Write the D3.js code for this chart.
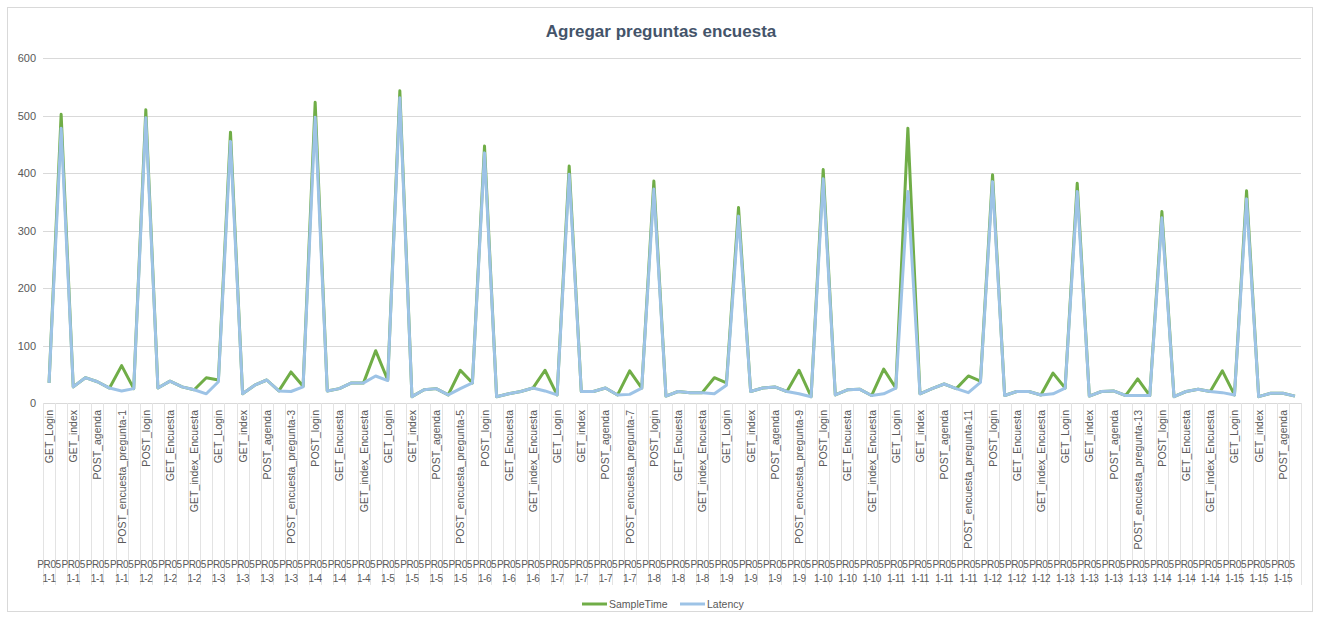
<!DOCTYPE html>
<html>
<head>
<meta charset="utf-8">
<script src="https://cdn.jsdelivr.net/npm/d3@7"></script>
<style>
	body { margin: 0; background: #fff; }
	text { font-family: 'Liberation Sans', sans-serif; fill: #595959; }
</style>
</head>
<body>
<script>
// ---------------------------- data -----------------------------------

var steps = ['GET_Login', 'POST_login', 'GET_index', 'GET_Encuesta', 'POST_agenda', 'GET_index_Encuesta', 'POST_encuesta_pregunta'];
var groupCount = 15;
var yTicks = [0, 100, 200, 300, 400, 500, 600];

var sampleTime = [35, 502, 28, 44, 37, 26, 65, 25, 510, 26, 38, 28, 23, 44, 40, 471, 16, 31, 40, 21, 54, 29, 523, 21, 25, 35, 35, 91, 40, 543,
	11, 23, 25, 14, 57, 35, 447, 11, 16, 20, 26, 57, 14, 412, 20, 20, 26, 14, 56, 26, 386, 12, 20, 18, 18, 44, 35, 340, 20, 26,
	28, 20, 57, 11, 406, 14, 23, 24, 13, 59, 26, 478, 16, 25, 33, 25, 47, 38, 397, 13, 20, 20, 14, 52, 26, 382, 12, 20, 21, 13,
	42, 13, 333, 11, 20, 24, 20, 56, 14, 369, 11, 17, 17, 12];

var latency = [35, 478, 28, 44, 37, 26, 21, 25, 496, 26, 38, 28, 23, 16, 37, 455, 16, 31, 40, 21, 20, 28, 497, 21, 25, 35, 35, 47, 39, 531,
	11, 23, 25, 14, 25, 35, 435, 11, 16, 20, 26, 21, 14, 398, 20, 20, 26, 14, 15, 26, 372, 12, 20, 18, 18, 16, 31, 325, 20, 26,
	28, 20, 16, 11, 390, 14, 23, 24, 13, 16, 26, 368, 16, 25, 33, 25, 18, 36, 385, 13, 20, 20, 14, 16, 26, 368, 12, 20, 21, 13,
	13, 13, 322, 11, 20, 24, 20, 18, 14, 355, 11, 17, 17, 12];

// category labels: request name + thread group
var names = [];
var groups = [];
for (var g = 1; g <= groupCount; g++) {
	steps.forEach(function(s) {
		names.push(s === 'POST_encuesta_pregunta' ? s + '-' + g : s);
		groups.push('1-' + g);
	});
}
names = names.slice(0, sampleTime.length);
groups = groups.slice(0, sampleTime.length);

var series = [
	{ name: 'SampleTime', values: sampleTime, color: '#70AD47' },
	{ name: 'Latency', values: latency, color: '#9DC3E6' }
];

// ---------------------------- d3 -----------------------------------

var svgWidth = 1320, svgHeight = 619;
var svg = d3.select('body').append('svg').attr('width', svgWidth).attr('height', svgHeight);

svg.append('rect').attr('x', 7.5).attr('y', 7.5).attr('width', 1305).attr('height', 604)
	.attr('fill', '#fff').attr('stroke', '#D9D9D9');

svg.append('text').attr('x', 661).attr('y', 37).attr('text-anchor', 'middle')
	.style('font-weight', 'bold').style('font-size', '17px').style('fill', '#44546A')
	.text('Agregar preguntas encuesta');

var plotLeft = 43, plotRight = 1301, plotTop = 58, plotBottom = 403;

var x = d3.scaleBand().domain(d3.range(names.length)).range([plotLeft, plotRight]).padding(0);
var y = d3.scaleLinear().domain([0, 600]).range([plotBottom, plotTop]);

// horizontal grid
svg.append('g').selectAll('line').data(yTicks).enter().append('line')
	.attr('x1', plotLeft).attr('x2', plotRight)
	.attr('y1', function(d) { return Math.round(y(d)) + 0.5; })
	.attr('y2', function(d) { return Math.round(y(d)) + 0.5; })
	.attr('stroke', '#D9D9D9');

var yAxis = svg.append('g').attr('transform', 'translate(' + (plotLeft - 7) + ',0)')
	.call(d3.axisLeft(y).tickValues(yTicks).tickSize(0).tickPadding(0));
yAxis.select('.domain').remove();
yAxis.selectAll('text').style('font-size', '11px').style('font-family', 'Liberation Sans, sans-serif').style('fill', '#595959');

// category separators in label area
svg.append('g').selectAll('line').data(d3.range(names.length + 1)).enter().append('line')
	.attr('x1', function(d) { return Math.round(plotLeft + d * x.step()) + 0.5; })
	.attr('x2', function(d) { return Math.round(plotLeft + d * x.step()) + 0.5; })
	.attr('y1', plotBottom).attr('y2', 585)
	.attr('stroke', '#E3E3E3');

// category labels (every second one shown)
var shown = d3.range(0, names.length, 2);
var cx = function(i) { return x(i) + x.bandwidth() / 2; };

svg.append('g').selectAll('text').data(shown).enter().append('text')
	.attr('transform', function(i) { return 'translate(' + (cx(i) + 4) + ',410) rotate(-90)'; })
	.attr('text-anchor', 'end')
	.style('font-size', '10.5px')
	.text(function(i) { return names[i]; });

var glab = svg.append('g').selectAll('text').data(shown).enter().append('text')
	.attr('text-anchor', 'middle')
	.style('font-size', '10px')
	.style('letter-spacing', '-0.4px');
glab.append('tspan').attr('x', cx).attr('y', 568).text('PR05');
glab.append('tspan').attr('x', cx).attr('y', 582).text(function(i) { return groups[i]; });

// lines
var line = d3.line().x(function(d, i) { return cx(i); }).y(function(d) { return y(d); });

svg.append('g').selectAll('path').data(series).enter().append('path')
	.attr('d', function(d) { return line(d.values); })
	.attr('fill', 'none')
	.attr('stroke', function(d) { return d.color; })
	.attr('stroke-width', 3)
	.attr('stroke-linejoin', 'round');

// legend
var legend = svg.append('g').selectAll('g').data(series).enter().append('g')
	.attr('transform', function(d, i) { return 'translate(' + (582 + i * 98) + ',604)'; });
legend.append('line').attr('x1', 0).attr('x2', 25).attr('y1', 0).attr('y2', 0)
	.attr('stroke', function(d) { return d.color; }).attr('stroke-width', 3);
legend.append('text').attr('x', 27).attr('y', 4).style('font-size', '10.5px')
	.text(function(d) { return d.name; });
</script>
</body>
</html>
